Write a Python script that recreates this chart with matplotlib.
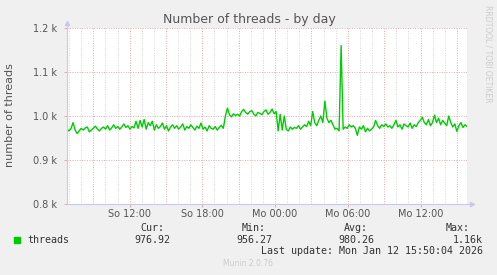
import numpy as np
import matplotlib
matplotlib.use("Agg")
import matplotlib.pyplot as plt
from matplotlib.patches import Rectangle

# hours relative to Mo 00:00, graph spans 33 h ending at the last update (15:50)
t_start = -17 - 10 / 60
t_end = 15 + 50 / 60

# 10-minute samples
threads = [
    970, 966, 972, 985, 968, 960, 966, 972, 968, 973, 975, 964, 968, 972, 977, 970, 966, 972,
    975, 970, 978, 968, 973, 980, 972, 976, 970, 975, 982, 974, 978, 970, 976, 973, 988, 972,
    990, 975, 992, 970, 985, 978, 988, 968, 980, 972, 976, 984, 970, 978, 966, 975, 980, 972,
    978, 970, 975, 982, 968, 976, 972, 980, 974, 968, 977, 972, 984, 970, 975, 966, 978, 972,
    970, 976, 968, 974, 979, 972, 1000, 1018, 1003, 998, 1005, 1001, 1004, 1000, 1010, 1015, 1008, 1004,
    1010, 1012, 1004, 1000, 1008, 1006, 1003, 1010, 1014, 1004, 1008, 1016, 1005, 1010, 966, 1004, 968, 1000,
    970, 966, 975, 970, 974, 972, 978, 970, 975, 980, 976, 988, 978, 1010, 985, 978, 990, 1000,
    985, 1034, 995, 985, 990, 980, 970, 972, 966, 1160, 970, 975, 972, 980, 975, 978, 972, 956,
    975, 970, 978, 964, 972, 966, 970, 975, 990, 978, 972, 980, 976, 982, 975, 978, 972, 980,
    990, 975, 980, 970, 982, 978, 975, 984, 972, 980, 976, 985, 990, 997, 985, 980, 992, 978,
    985, 1002, 985, 995, 980, 990, 984, 978, 1000, 985, 975, 982, 965, 978, 985, 974, 980, 976,
]
hours = np.linspace(t_start, t_end, len(threads))

tick_pos = [-12, -6, 0, 6, 12]
tick_labels = ["So 12:00", "So 18:00", "Mo 00:00", "Mo 06:00", "Mo 12:00"]
y_ticks = [800, 900, 1000, 1100, 1200]
y_labels = ["0.8 k", "0.9 k", "1.0 k", "1.1 k", "1.2 k"]

stat_names = ["Cur:", "Min:", "Avg:", "Max:"]
stat_values = ["976.92", "956.27", "980.26", "1.16k"]

W, H = 497, 275
fig = plt.figure(figsize=(W / 100, H / 100), dpi=100, facecolor="#f0f0f0")
ax = fig.add_axes([67 / W, 1 - 204 / H, 400 / W, 176 / H])
ax.set_facecolor("white")

ax.set_xlim(t_start, t_end)
ax.set_ylim(800, 1200)

dots = (0, (1, 1.5))
# minor hourly grid and 3-hourly red grid
for h in range(-17, 16):
    if h % 3 == 0:
        ax.axvline(h, color="#e6aaaa", lw=0.7, ls=dots, zorder=1)
    else:
        ax.axvline(h, color="#d4d4d4", lw=0.7, ls=dots, zorder=1)
for v in y_ticks[1:]:
    ax.axhline(v, color="#e6aaaa", lw=0.7, ls=dots, zorder=1)

ax.plot(hours, threads, color="#00cc00", lw=1.0, zorder=3)

ax.set_xticks(tick_pos)
ax.set_xticklabels(tick_labels)
ax.set_yticks(y_ticks)
ax.set_yticklabels(y_labels)
ax.tick_params(axis="both", labelsize=7, labelcolor="#555555", color="#e6aaaa",
               length=2, width=0.7)
ax.tick_params(axis="x", pad=1.5)
ax.tick_params(axis="y", pad=5)

for s in ax.spines.values():
    s.set_visible(False)
# axis lines with arrows
axis_col = "#c8c8f0"
ax.plot([0, 1.013], [0, 0], transform=ax.transAxes, color=axis_col, lw=0.8, clip_on=False, zorder=4)
ax.plot([0, 0], [0, 1.03], transform=ax.transAxes, color=axis_col, lw=0.8, clip_on=False, zorder=4)
ax.plot([1.013], [0], transform=ax.transAxes, marker=">", ms=3, color=axis_col, clip_on=False, zorder=4)
ax.plot([0], [1.03], transform=ax.transAxes, marker="^", ms=3, color=axis_col, clip_on=False, zorder=4)

fig.text(249 / W, 1 - 19 / H, "Number of threads - by day", ha="center", va="center",
         fontsize=9, color="#555555")
fig.text(10 / W, 1 - 115 / H, "number of threads", rotation=90, ha="center", va="center",
         fontsize=8, color="#555555")
fig.text(488 / W, 1 - 5 / H, "RRDTOOL / TOBI OETIKER", rotation=270, ha="center", va="top",
         fontsize=5.5, color="#cccccc")

mono = "DejaVu Sans Mono"
fig.add_artist(Rectangle((14 / W, 1 - 243 / H), 6 / W, 6 / H, transform=fig.transFigure,
                         color="#00cc00"))
fig.text(27 / W, 1 - 240 / H, "threads", ha="left", va="center", fontsize=7.2,
         family=mono, color="#333333")
name_x = [164, 266, 368, 470]
val_x = [170, 272, 374, 483]
for i in range(4):
    fig.text(name_x[i] / W, 1 - 228 / H, stat_names[i], ha="right", va="center",
             fontsize=7.2, family=mono, color="#333333")
    fig.text(val_x[i] / W, 1 - 240 / H, stat_values[i], ha="right", va="center",
             fontsize=7.2, family=mono, color="#333333")
fig.text(483 / W, 1 - 251 / H, "Last update: Mon Jan 12 15:50:04 2026", ha="right",
         va="center", fontsize=7.2, family=mono, color="#333333")
fig.text(248 / W, 1 - 264 / H, "Munin 2.0.76", ha="center", va="center", fontsize=5.5,
         color="#cccccc")

fig.savefig("out.png", dpi=100, facecolor=fig.get_facecolor())
